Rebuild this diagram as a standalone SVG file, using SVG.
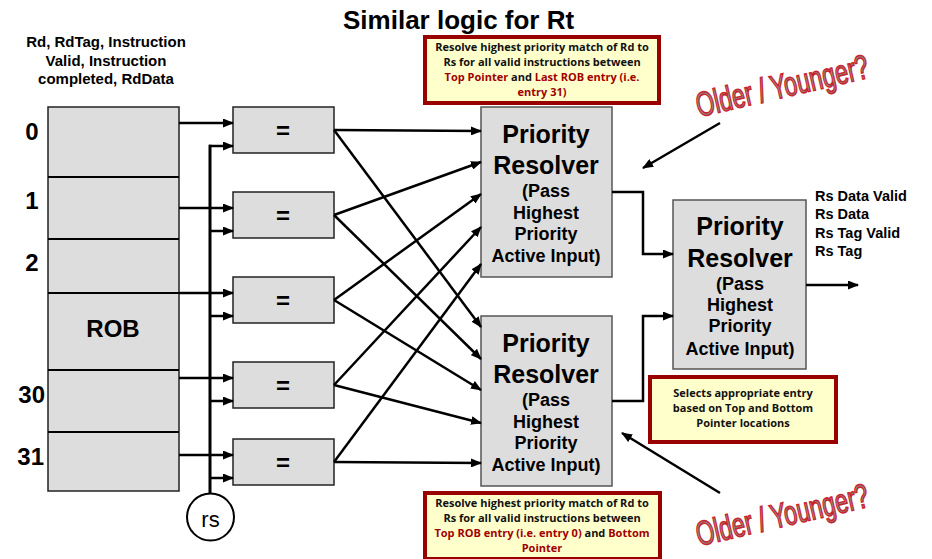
<svg xmlns="http://www.w3.org/2000/svg" width="932" height="559" viewBox="0 0 932 559">
  <style>
    .lbl { font-family: "Liberation Sans", Arial, sans-serif; font-weight: bold; fill: #000; }
    .box { fill: #dddddd; stroke: #222; stroke-width: 1.5; }
    .pr { fill: #dddddd; stroke: #555; stroke-width: 1.5; }
    .note { fill: #ffffcc; stroke: #990000; stroke-width: 4; }
    .nt { font-family: "Open Sans", "Noto Sans", sans-serif; font-weight: bold; font-size: 11px; fill: #111; text-anchor: middle; }
    .red { fill: #a00000; }
    .wire { fill: none; stroke: #000; stroke-width: 2.5; }
    .arr { marker-end: url(#ah); }
    .oy { font-family: "Liberation Sans", Arial, sans-serif; font-size: 34px; fill: #8a8a8a; stroke: #c8262e; stroke-width: 1.6; }
  </style>
  <defs>
    <marker id="ah" markerUnits="userSpaceOnUse" markerWidth="11" markerHeight="9" refX="10" refY="4.5" orient="auto">
      <path d="M0,0 L11,4.5 L0,9 z" fill="#000"/>
    </marker>
  </defs>

  <rect width="932" height="559" fill="#ffffff"/>

  <!-- Title and header -->
  <text class="lbl" x="343" y="29" font-size="26">Similar logic for Rt</text>
  <g id="rob-header" class="lbl" font-size="15" text-anchor="middle">
    <text x="106" y="47">Rd, RdTag, Instruction</text>
    <text x="106" y="66">Valid, Instruction</text>
    <text x="106" y="84">completed, RdData</text>
  </g>

  <!-- ROB -->
  <g id="rob">
    <rect x="48" y="107" width="131" height="384" fill="#dddddd" stroke="#222" stroke-width="1.5"/>
    <g stroke="#000" stroke-width="2">
      <line x1="48" y1="177" x2="179" y2="177"/>
      <line x1="48" y1="239" x2="179" y2="239"/>
      <line x1="48" y1="293" x2="179" y2="293"/>
      <line x1="48" y1="370" x2="179" y2="370"/>
      <line x1="48" y1="432" x2="179" y2="432"/>
    </g>
    <text class="lbl" x="113" y="337" font-size="24" text-anchor="middle">ROB</text>
    <g class="lbl" font-size="24">
      <text x="32" y="140" text-anchor="middle">0</text>
      <text x="32" y="209" text-anchor="middle">1</text>
      <text x="32" y="271" text-anchor="middle">2</text>
      <text x="45" y="403" text-anchor="end">30</text>
      <text x="44" y="465" text-anchor="end">31</text>
    </g>
  </g>

  <!-- Comparators -->
  <g id="cmp0"><rect class="box" x="233" y="107" width="101" height="46"/><text class="lbl" x="283" y="139" font-size="24" text-anchor="middle">=</text></g>
  <g id="cmp1"><rect class="box" x="233" y="192" width="101" height="46"/><text class="lbl" x="283" y="224" font-size="24" text-anchor="middle">=</text></g>
  <g id="cmp2"><rect class="box" x="233" y="277" width="101" height="46"/><text class="lbl" x="283" y="309" font-size="24" text-anchor="middle">=</text></g>
  <g id="cmp3"><rect class="box" x="233" y="362" width="101" height="46"/><text class="lbl" x="283" y="394" font-size="24" text-anchor="middle">=</text></g>
  <g id="cmp4"><rect class="box" x="233" y="439" width="101" height="46"/><text class="lbl" x="283" y="471" font-size="24" text-anchor="middle">=</text></g>

  <!-- rs source -->
  <g id="rs">
    <circle cx="210.5" cy="517" r="23.5" fill="#fff" stroke="#000" stroke-width="2"/>
    <text x="210.5" y="527" font-family="Liberation Sans, Arial, sans-serif" font-size="22" text-anchor="middle">rs</text>
  </g>

  <!-- Priority resolvers -->
  <g id="pr-top">
    <rect class="pr" x="481" y="107" width="131" height="170"/>
    <g class="lbl" text-anchor="middle">
      <text x="546" y="143" font-size="25">Priority</text>
      <text x="546" y="174" font-size="25">Resolver</text>
      <text x="546" y="197" font-size="18">(Pass</text>
      <text x="546" y="219" font-size="18">Highest</text>
      <text x="546" y="240" font-size="18">Priority</text>
      <text x="546" y="262" font-size="18">Active Input)</text>
    </g>
  </g>
  <g id="pr-bottom">
    <rect class="pr" x="481" y="316" width="131" height="170"/>
    <g class="lbl" text-anchor="middle">
      <text x="546" y="352" font-size="25">Priority</text>
      <text x="546" y="383" font-size="25">Resolver</text>
      <text x="546" y="406" font-size="18">(Pass</text>
      <text x="546" y="428" font-size="18">Highest</text>
      <text x="546" y="449" font-size="18">Priority</text>
      <text x="546" y="471" font-size="18">Active Input)</text>
    </g>
  </g>
  <g id="pr-final">
    <rect class="pr" x="673" y="200" width="133" height="169"/>
    <g class="lbl" text-anchor="middle">
      <text x="740" y="235" font-size="25">Priority</text>
      <text x="740" y="267" font-size="25">Resolver</text>
      <text x="740" y="290" font-size="18">(Pass</text>
      <text x="740" y="311" font-size="18">Highest</text>
      <text x="740" y="332" font-size="18">Priority</text>
      <text x="740" y="355" font-size="18">Active Input)</text>
    </g>
  </g>

  <!-- Output signal list -->
  <g id="outputs" class="lbl" font-size="14.5">
    <text x="815" y="201">Rs Data Valid</text>
    <text x="815" y="219">Rs Data</text>
    <text x="815" y="238">Rs Tag Valid</text>
    <text x="815" y="256">Rs Tag</text>
  </g>

  <!-- Notes -->
  <g id="note-top">
    <rect class="note" x="425" y="37" width="234" height="66"/>
    <text class="nt" x="542" y="51">Resolve highest priority match of Rd to</text>
    <text class="nt" x="542" y="66">Rs for all valid instructions between</text>
    <text class="nt" x="542" y="81"><tspan class="red">Top Pointer</tspan> and <tspan class="red">Last ROB entry (i.e.</tspan></text>
    <text class="nt red" x="542" y="96">entry 31)</text>
  </g>
  <g id="note-bottom">
    <rect class="note" x="425" y="493" width="235" height="66"/>
    <text class="nt" x="542" y="507">Resolve highest priority match of Rd to</text>
    <text class="nt" x="542" y="522">Rs for all valid instructions between</text>
    <text class="nt" x="542" y="537"><tspan class="red">Top ROB entry (i.e. entry 0)</tspan> and <tspan class="red">Bottom</tspan></text>
    <text class="nt red" x="542" y="552">Pointer</text>
  </g>
  <g id="note-mid">
    <rect class="note" x="650" y="377" width="186" height="65"/>
    <text class="nt" x="743" y="397">Selects appropriate entry</text>
    <text class="nt" x="743" y="412">based on Top and Bottom</text>
    <text class="nt" x="743" y="427">Pointer locations</text>
  </g>

  <!-- Older / Younger callouts (tall, condensed lettering) -->
  <text class="oy" transform="translate(699 117) rotate(-13) scale(0.69 1)">Older / Younger?</text>
  <text class="oy" transform="translate(699 546) rotate(-13) scale(0.69 1)">Older / Younger?</text>

  <!-- Connectors -->
  <g id="connectors" class="wire">
    <!-- ROB entries to comparators -->
    <line class="arr" x1="179" y1="123" x2="233" y2="123"/>
    <line class="arr" x1="179" y1="208" x2="233" y2="208"/>
    <line class="arr" x1="179" y1="293" x2="233" y2="293"/>
    <line class="arr" x1="179" y1="378" x2="233" y2="378"/>
    <line class="arr" x1="179" y1="455" x2="233" y2="455"/>
    <!-- rs bus -->
    <line x1="210" y1="144.8" x2="210" y2="493.5" stroke-width="3"/>
    <line class="arr" x1="209" y1="146" x2="233" y2="146"/>
    <line class="arr" x1="209" y1="231" x2="233" y2="231"/>
    <line class="arr" x1="209" y1="316" x2="233" y2="316"/>
    <line class="arr" x1="209" y1="401" x2="233" y2="401"/>
    <line class="arr" x1="209" y1="478" x2="233" y2="478"/>
    <!-- comparators to top resolver -->
    <line class="arr" x1="334" y1="130" x2="481" y2="131"/>
    <line class="arr" x1="334" y1="215" x2="481" y2="162"/>
    <line class="arr" x1="334" y1="300" x2="481" y2="194"/>
    <line class="arr" x1="334" y1="385" x2="481" y2="227"/>
    <line class="arr" x1="334" y1="462" x2="481" y2="264"/>
    <!-- comparators to bottom resolver -->
    <line class="arr" x1="334" y1="130" x2="481" y2="327"/>
    <line class="arr" x1="334" y1="215" x2="481" y2="359"/>
    <line class="arr" x1="334" y1="300" x2="481" y2="390"/>
    <line class="arr" x1="334" y1="385" x2="481" y2="423"/>
    <line class="arr" x1="334" y1="462" x2="481" y2="463"/>
    <!-- resolvers to final resolver -->
    <polyline class="arr" points="612,192 643,192 643,254 673,254"/>
    <polyline class="arr" points="612,401 643,401 643,316 673,316"/>
    <!-- output -->
    <line class="arr" x1="806" y1="285" x2="858" y2="285"/>
    <!-- callout arrows -->
    <line class="arr" x1="720" y1="123" x2="643" y2="168"/>
    <line class="arr" x1="720" y1="493" x2="622" y2="433"/>
  </g>
</svg>
